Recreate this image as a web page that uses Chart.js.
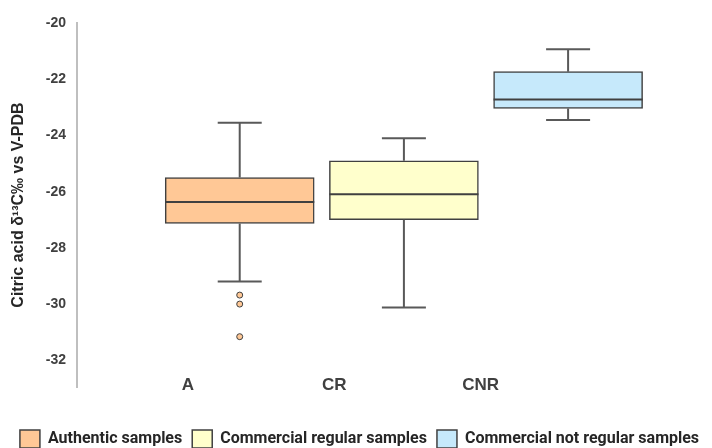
<!DOCTYPE html>
<html>
<head>
<meta charset="utf-8">
<script src="https://cdn.jsdelivr.net/npm/chart.js@4"></script>
<style>
  html, body { margin: 0; padding: 0; background: #fff; }
  #wrap { width: 712px; height: 448px; }
</style>
</head>
<body>
<div id="wrap"><canvas id="boxChart" width="712" height="448"></canvas></div>
<script>
// Groups and box statistics (delta 13C, permil)
const categories = ["A", "CR", "CNR"];
const groupNames = ["Authentic samples", "Commercial regular samples", "Commercial not regular samples"];
const whiskerLow = [-29.2, -30.12, -23.45];
const q1 = [-27.13, -27.0, -23.04];
const median = [-26.37, -26.09, -22.72];
const q3 = [-25.5, -24.9, -21.73];
const whiskerHigh = [-23.55, -24.1, -20.93];
const outliersA = [-29.68, -30.0, -31.16];
const yTicks = [-20, -22, -24, -26, -28, -30, -32];

const fills = ["#FFC896", "#FFFFCC", "#C6E9FB"];
const edge = "#404040";
const capHalf = 0.134;
const boxHalf = 0.454;

// whiskers + caps as one broken line
const whiskerPts = [];
const medianPts = [];
categories.forEach((c, i) => {
    const x = i + 1;
    whiskerPts.push({ x: x, y: q3[i] }, { x: x, y: whiskerHigh[i] }, { x: x, y: null });
    whiskerPts.push({ x: x - capHalf, y: whiskerHigh[i] }, { x: x + capHalf, y: whiskerHigh[i] }, { x: x, y: null });
    whiskerPts.push({ x: x, y: q1[i] }, { x: x, y: whiskerLow[i] }, { x: x, y: null });
    whiskerPts.push({ x: x - capHalf, y: whiskerLow[i] }, { x: x + capHalf, y: whiskerLow[i] }, { x: x, y: null });
    medianPts.push({ x: x - boxHalf, y: median[i] }, { x: x + boxHalf, y: median[i] }, { x: x, y: null });
});

const boxSets = categories.map((c, i) => ({
    label: groupNames[i],
    data: [{ x: i + 1, y: [q1[i], q3[i]] }],
    backgroundColor: fills[i],
    borderColor: edge,
    borderWidth: 1.5,
    borderSkipped: false,
    barThickness: 149,
    grouped: false,
    order: 3
}));

const ctx = document.getElementById("boxChart").getContext("2d");
const chart = new Chart(ctx, {
    type: "bar",
    data: {
        datasets: [
            ...boxSets,
            {
                type: "line",
                label: "whiskers",
                data: whiskerPts,
                borderColor: "#595959",
                borderWidth: 2,
                pointRadius: 0,
                spanGaps: false,
                order: 2
            },
            {
                type: "line",
                label: "median",
                data: medianPts,
                borderColor: edge,
                borderWidth: 2,
                pointRadius: 0,
                spanGaps: false,
                order: 2
            },
            {
                type: "scatter",
                label: "outliers",
                data: outliersA.map(v => ({ x: 1, y: v })),
                backgroundColor: fills[0],
                borderColor: edge,
                borderWidth: 1,
                pointRadius: 3,
                order: 1
            }
        ]
    },
    options: {
        responsive: false,
        animation: false,
        layout: { padding: { top: 23, right: 0, left: 7, bottom: -10 } },
        scales: {
            x: {
                type: "linear",
                display: false,
                min: 0.009,
                max: 3.846,
                offset: false
            },
            xl: {
                type: "linear",
                position: { y: -32.45 },
                min: 0.243,
                max: 4.547,
                offset: false,
                bounds: "data",
                grid: { display: false, drawTicks: false },
                border: { display: false },
                afterBuildTicks: (axis) => { axis.ticks = [1, 2, 3].map(v => ({ value: v })); },
                ticks: {
                    autoSkip: false,
                    maxRotation: 0,
                    padding: 2,
                    color: "#404040",
                    font: { family: "Liberation Sans", size: 17, weight: "bold" },
                    callback: (v) => categories[v - 1]
                }
            },
            // empty bottom band that keeps the legend clear of the plot
            xs: {
                type: "linear",
                position: "bottom",
                offset: false,
                grid: { display: false, drawTicks: false },
                border: { display: false },
                ticks: { display: false },
                afterFit: (axis) => { axis.height = 33; }
            },
            y: {
                min: -32.95,
                max: -20,
                grid: { display: false, drawTicks: false },
                border: { display: true, color: "#BFBFBF", width: 2 },
                afterBuildTicks: (axis) => { axis.ticks = yTicks.map(v => ({ value: v })); },
                afterFit: (axis) => { axis.width = 70; },
                ticks: {
                    padding: 11,
                    color: "#404040",
                    font: { family: "Liberation Sans", size: 14, weight: "bold" }
                },
                title: {
                    display: true,
                    text: "Citric acid \u03B4\u00B9\u00B3C\u2030 vs V-PDB",
                    color: "#262626",
                    padding: { top: 2, bottom: 0 },
                    font: { family: "Liberation Sans", size: 16, weight: "bold" }
                }
            }
        },
        plugins: {
            tooltip: { enabled: false },
            legend: {
                position: "bottom",
                labels: {
                    boxWidth: 20,
                    boxHeight: 18,
                    padding: 10,
                    color: "#262626",
                    font: { family: "Roboto", size: 16, weight: "bold" },
                    filter: (item) => item.datasetIndex < 3
                }
            }
        }
    }
});
</script>
</body>
</html>
